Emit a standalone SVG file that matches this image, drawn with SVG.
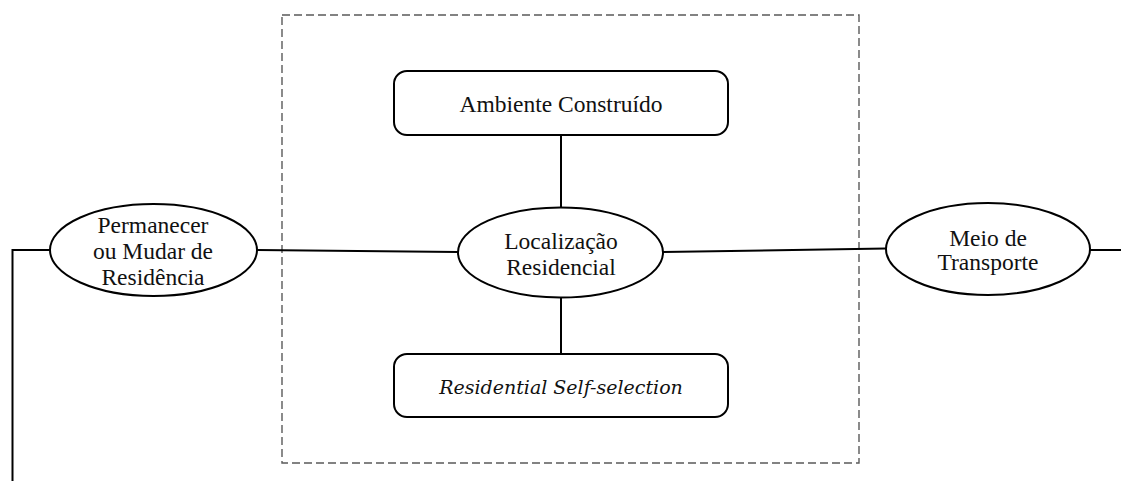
<svg xmlns="http://www.w3.org/2000/svg" width="1121" height="481" viewBox="0 0 1121 481">
  <style>
    .shape { fill: #ffffff; stroke: #000000; stroke-width: 2; }
    .link { fill: none; stroke: #000000; stroke-width: 2; }
    .frame { fill: none; stroke: #5a5a5a; stroke-width: 1.4; stroke-dasharray: 8 4; }
    .label { font-family: "Liberation Serif", "Times New Roman", serif; font-size: 23.5px; fill: #111111; text-anchor: middle; }
    .it { font-family: "DejaVu Serif", "Liberation Serif", serif; font-style: italic; font-size: 19px; }
  </style>
  <rect width="1121" height="481" fill="#ffffff"/>

  <!-- dashed frame around the residential location block -->
  <rect class="frame" x="282" y="15" width="577" height="448"/>

  <!-- connectors -->
  <g id="connectors">
    <polyline class="link" points="50,250 12.5,250 12.5,481"/>
    <line class="link" x1="257" y1="250" x2="458" y2="252"/>
    <line class="link" x1="663" y1="252" x2="886" y2="248.5"/>
    <line class="link" x1="1090" y1="250" x2="1121" y2="250"/>
    <line class="link" x1="561" y1="135" x2="561" y2="208"/>
    <line class="link" x1="561" y1="297" x2="561" y2="354"/>
  </g>

  <g id="node-permanecer">
    <ellipse class="shape" cx="153.5" cy="250" rx="103.5" ry="46"/>
    <text class="label" x="153" y="232.5">Permanecer</text>
    <text class="label" x="153" y="258.5">ou Mudar de</text>
    <text class="label" x="153" y="284.5">Residência</text>
  </g>

  <g id="node-ambiente">
    <rect class="shape" x="394" y="71" width="334" height="64" rx="13"/>
    <text class="label" x="561" y="111.5">Ambiente Construído</text>
  </g>

  <g id="node-localizacao">
    <ellipse class="shape" cx="560.5" cy="252.5" rx="102.5" ry="45"/>
    <text class="label" x="561" y="249">Localização</text>
    <text class="label" x="561" y="274.5">Residencial</text>
  </g>

  <g id="node-selfselection">
    <rect class="shape" x="394" y="354" width="334" height="63" rx="13"/>
    <text class="label it" x="561" y="394">Residential Self-selection</text>
  </g>

  <g id="node-transporte">
    <ellipse class="shape" cx="988" cy="249" rx="102" ry="46"/>
    <text class="label" x="988" y="245.5">Meio de</text>
    <text class="label" x="988" y="270">Transporte</text>
  </g>
</svg>
